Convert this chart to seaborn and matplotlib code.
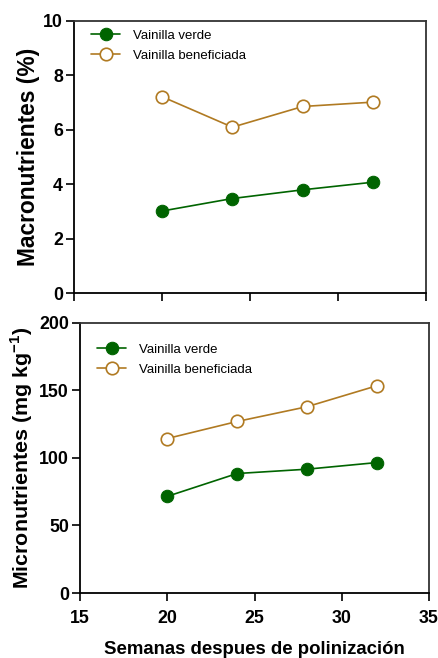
import matplotlib
matplotlib.use("Agg")
import matplotlib.pyplot as plt
import seaborn as sns
import pandas as pd

sns.set_theme(style="ticks")
plt.rcParams['font.family'] = ['Liberation Sans', 'DejaVu Sans']
plt.rcParams['text.color'] = 'black'
plt.rcParams['axes.labelcolor'] = 'black'
plt.rcParams['xtick.color'] = 'black'
plt.rcParams['ytick.color'] = 'black'
plt.rcParams['mathtext.fontset'] = 'custom'
plt.rcParams['mathtext.bf'] = 'Liberation Sans:bold'
plt.rcParams['mathtext.rm'] = 'Liberation Sans'

semanas = [20, 24, 28, 32]
macro_verde = [3.01, 3.47, 3.79, 4.07]
macro_benef = [7.21, 6.09, 6.85, 7.01]
micro_verde = [71.5, 88.4, 91.6, 96.5]
micro_benef = [114.3, 126.9, 137.8, 153.3]
series = ["Vainilla verde", "Vainilla beneficiada"]
x_ticks = [15, 20, 25, 30, 35]

GREEN = "#006400"
BROWN = "#b07a22"

fig = plt.figure(figsize=(4.39, 6.58), dpi=100)
ax1 = fig.add_axes([74/439, 1-293/658, (426-74)/439, (293-20.7)/658])
ax2 = fig.add_axes([80/439, 1-593/658, (429-80)/439, (593-322.7)/658])

def draw(ax, verde, benef, ylim, yticks, ylabel, ylsize, ylx, legend_y, show_xlabels):
    df = pd.DataFrame({"x": semanas * 2,
                       "y": list(verde) + list(benef),
                       "serie": [series[0]] * 4 + [series[1]] * 4})
    sns.lineplot(data=df[df.serie == series[0]], x="x", y="y", ax=ax,
                 color=GREEN, marker="o", markersize=9, markerfacecolor=GREEN,
                 markeredgecolor=GREEN, linewidth=1.2, label=series[0])
    sns.lineplot(data=df[df.serie == series[1]], x="x", y="y", ax=ax,
                 color=BROWN, marker="o", markersize=9, markerfacecolor="white",
                 markeredgecolor=BROWN, markeredgewidth=1.2, linewidth=1.2,
                 label=series[1])
    ax.set_xlim(15, 35)
    ax.set_ylim(*ylim)
    ax.set_xticks(x_ticks)
    ax.set_yticks(yticks)
    if show_xlabels:
        ax.set_xticklabels([str(t) for t in x_ticks], fontsize=12.8, fontweight="bold")
        ax.set_xlabel("Semanas despues de polinización", fontsize=13.4,
                      fontweight="bold", labelpad=10)
    else:
        ax.set_xticklabels([])
        ax.set_xlabel("")
    ax.set_yticklabels([str(t) for t in yticks], fontsize=12.8, fontweight="bold")
    ax.set_ylabel(ylabel, fontsize=ylsize, fontweight="bold")
    ax.yaxis.set_label_coords(ylx, 0.5)
    for s in ["left", "bottom"]:
        ax.spines[s].set_color("black")
        ax.spines[s].set_linewidth(1.3)
    for s in ["top", "right"]:
        ax.spines[s].set_visible(True)
        ax.spines[s].set_color("#333333")
        ax.spines[s].set_linewidth(1.3)
    ax.tick_params(axis="both", direction="out", length=6, width=1.2,
                   color="black", pad=2)
    ax.tick_params(axis="x", pad=6)
    leg = ax.legend(loc="upper left", bbox_to_anchor=(0.015, legend_y),
                    frameon=False, fontsize=9.5, handlelength=2.2,
                    handletextpad=1.0, labelspacing=0.6)

draw(ax1, macro_verde, macro_benef, (0, 10), [0, 2, 4, 6, 8, 10],
     "Macronutrientes (%)", 16.4, -0.097, 1.012, False)
draw(ax2, micro_verde, micro_benef, (0, 200), [0, 50, 100, 150, 200],
     r"Micronutrientes (mg kg$^{\mathbf{-1}}$)", 15.4, -0.13, 0.967, True)

fig.savefig("out.png", dpi=100)
